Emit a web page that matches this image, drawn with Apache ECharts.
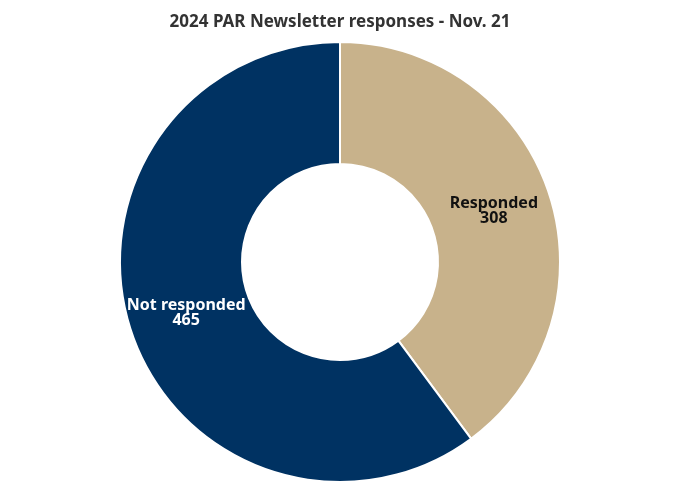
<!DOCTYPE html>
<html>
<head>
<meta charset="utf-8">
<script src="https://cdn.jsdelivr.net/npm/echarts@6/dist/echarts.min.js"></script>
<style>
  html, body { margin: 0; padding: 0; background: #fff; }
  #main { width: 680px; height: 492px; }
</style>
</head>
<body>
<div id="main"></div>
<script>
// data
const categories = ['Responded', 'Not responded'];
const counts = [308, 465];
const sliceColors = ['#c8b28b', '#003262'];
const labelColors = ['#111111', '#ffffff'];

let chart = echarts.init(document.getElementById('main'));

let option = {
  title: {
    text: '2024 PAR Newsletter responses - Nov. 21',
    left: 'center',
    top: 9,
    textStyle: {
      fontFamily: 'Noto Sans',
      fontSize: 17,
      fontWeight: 'bold',
      color: '#333333'
    }
  },
  series: [
    {
      type: 'pie',
      center: [340, 262],
      radius: [98, 220],
      startAngle: 90,
      clockwise: true,
      animation: false,
      itemStyle: {
        borderColor: '#ffffff',
        borderWidth: 2
      },
      label: {
        show: true,
        position: 'inside',
        fontFamily: 'Noto Sans',
        fontSize: 16,
        fontWeight: 'bold',
        lineHeight: 15,
        padding: [8, 0, 0, 0], // nudge text a bit lower
        formatter: p => p.name + '\n' + p.value
      },
      labelLine: { show: false },
      data: categories.map((name, i) => ({
        name: name,
        value: counts[i],
        itemStyle: { color: sliceColors[i] },
        label: { color: labelColors[i] }
      }))
    }
  ]
};

chart.setOption(option);
</script>
</body>
</html>
